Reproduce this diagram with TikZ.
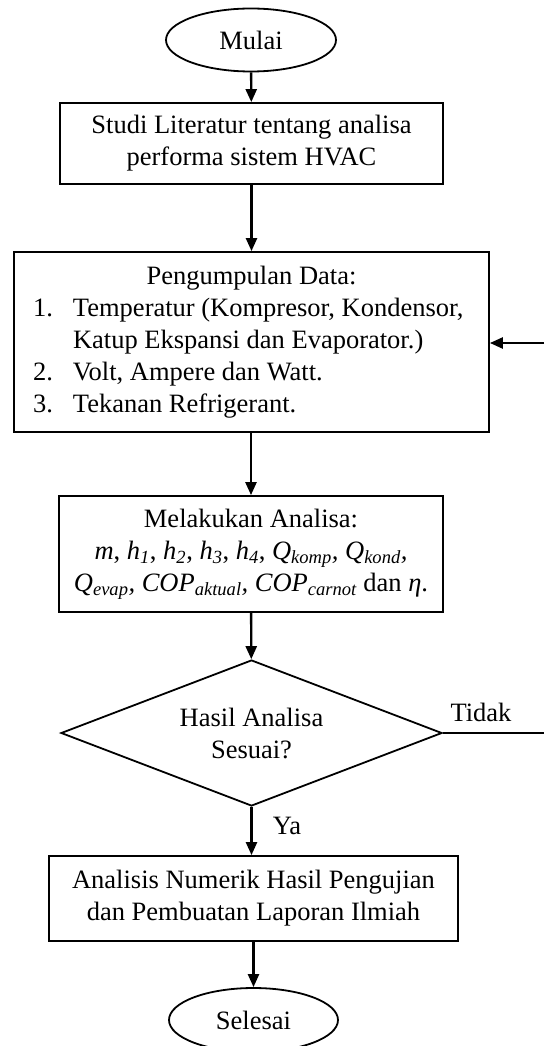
\documentclass[tikz,border=0pt]{standalone}
\usepackage{fontspec}
\setmainfont{Liberation Serif}
\usetikzlibrary{shapes.geometric,arrows.meta}
\begin{document}
\begin{tikzpicture}[x=1pt,y=1pt,
  every node/.style={font=\fontsize{26.5}{32}\selectfont},
  box/.style={draw,line width=1.8pt,rectangle,inner sep=0pt,align=center},
  term/.style={draw,line width=1.8pt,ellipse,inner sep=0pt},
  dec/.style={draw,line width=1.8pt,diamond,inner sep=0pt},
  arr/.style={line width=2.4pt,-{Triangle[length=13pt,width=11pt]}},
  ln/.style={line width=2.4pt},
  lbl/.style={inner sep=0pt}]
\useasboundingbox (0,0) rectangle (544,-1046);
\clip (0,0) rectangle (544,-1046);
\node[term,minimum width=170,minimum height=63] (mulai) at (251,-40) {Mulai};
\node[box,minimum width=383,minimum height=81] (studi) at (251.5,-143.5)
  {Studi Literatur tentang analisa\\performa sistem HVAC};
\node[box,minimum width=475,minimum height=180,align=left] (peng) at (251.5,-342)
  {\makebox[437pt][c]{Pengumpulan Data:}\\
   \makebox[40pt][l]{1.}Temperatur (Kompresor, Kondensor,\\
   \hspace*{40pt}Katup Ekspansi dan Evaporator.)\\
   \makebox[40pt][l]{2.}Volt, Ampere dan Watt.\\
   \makebox[40pt][l]{3.}Tekanan Refrigerant.};
\node[box,minimum width=384,minimum height=116] (anal) at (251,-554)
  {Melakukan Analisa:\\
   \textit{m}, \textit{h\textsubscript{1}}, \textit{h\textsubscript{2}}, \textit{h\textsubscript{3}}, \textit{h\textsubscript{4}}, \textit{Q\textsubscript{komp}, Q\textsubscript{kond},}\\
   \textit{Q\textsubscript{evap}, COP\textsubscript{aktual}, COP\textsubscript{carnot}} dan \textit{η}.};
\node[dec,minimum width=381,minimum height=146,
  label={[align=center,font=\fontsize{26.5}{32}\selectfont]center:Hasil Analisa\\Sesuai?}] (dia) at (251.5,-733) {};
\node[box,minimum width=409,minimum height=85] (lap) at (253.5,-898.5)
  {Analisis Numerik Hasil Pengujian\\dan Pembuatan Laporan Ilmiah};
\node[term,minimum width=169,minimum height=64] (sel) at (253.5,-1020) {Selesai};
\coordinate (tend) at (544,-733);
\coordinate (rstart) at (544,-343);
\draw[arr] (mulai) -- (studi);
\draw[arr] (studi) -- (peng);
\draw[arr] (peng.south -| anal.north) -- (anal.north);
\draw[arr] (anal) -- (dia);
\draw[arr] (dia.south) -- (dia.south |- lap.north);
\draw[arr] (lap.south -| sel.north) -- (sel.north);
\draw[ln] (dia.east) -- (tend);
\draw[arr] (rstart) -- (rstart -| peng.east);
\node[lbl] (tidak) at (481,-712) {Tidak};
\node[lbl] (ya) at (287,-826) {Ya};
\end{tikzpicture}
\end{document}
